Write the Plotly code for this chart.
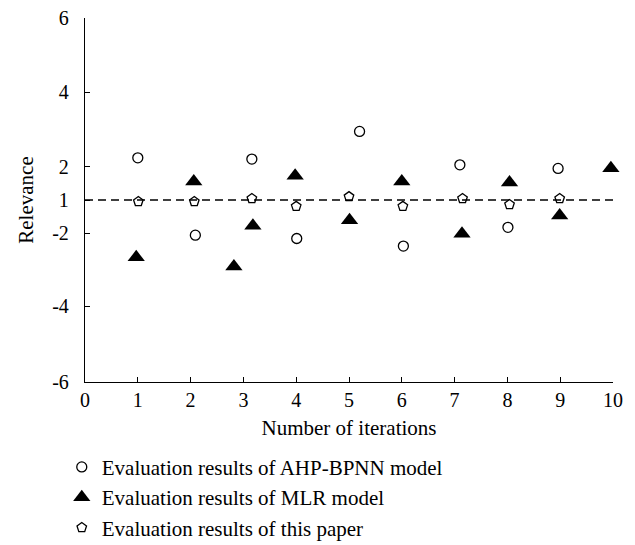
import plotly.graph_objects as go

# Positions along the plotted (linear) vertical axis; tick labels are relabelled as in the source chart
y_tick_vals = [6, 3.55, 1.1, 0, -1.1, -3.5, -6]
y_tick_text = ["6", "4", "2", "1", "-2", "-4", "-6"]
x_tick_vals = list(range(0, 11))

reference_level = 0  # dashed line (labelled "1")

ahp_x = [1.0, 2.09, 3.16, 4.01, 5.2, 6.03, 7.1, 8.01, 8.96, 10.02]
ahp_y = [1.39, -1.16, 1.35, -1.27, 2.26, -1.52, 1.16, -0.9, 1.04, -1.84]

mlr_x = [0.97, 2.06, 2.82, 3.18, 3.98, 5.01, 6.0, 7.14, 8.04, 8.99, 9.96]
mlr_y = [-1.89, 0.61, -2.19, -0.85, 0.8, -0.67, 0.61, -1.11, 0.58, -0.51, 1.05]

paper_x = [1.01, 2.07, 3.16, 4.0, 5.0, 6.02, 7.15, 8.04, 8.99, 10.02]
paper_y = [-0.05, -0.05, 0.05, -0.21, 0.11, -0.21, 0.05, -0.15, 0.05, -0.09]

FONT = "Liberation Serif"
FS = 21

fig = go.Figure()
fig.add_trace(go.Scatter(
    x=ahp_x, y=ahp_y, mode="markers", name="Evaluation results of AHP-BPNN model",
    marker=dict(symbol="circle-open", size=10, color="black", line=dict(width=1.3)),
    cliponaxis=False))
fig.add_trace(go.Scatter(
    x=mlr_x, y=mlr_y, mode="markers", name="Evaluation results of MLR model",
    marker=dict(symbol="triangle-up", size=15, color="black"),
    cliponaxis=False))
fig.add_trace(go.Scatter(
    x=paper_x, y=paper_y, mode="markers", name="Evaluation results of this paper",
    marker=dict(symbol="pentagon-open", size=10, color="black", line=dict(width=1.3)),
    cliponaxis=False))

fig.add_shape(type="line", x0=0, x1=10, y0=reference_level, y1=reference_level,
              xref="x", yref="y", line=dict(color="black", width=1.3, dash="8px,5px"),
              layer="below")

fig.update_layout(
    width=635, height=545,
    margin=dict(l=77, r=30, t=10, b=171, autoexpand=False),
    paper_bgcolor="white", plot_bgcolor="white",
    font=dict(family=FONT, size=FS, color="black"),
    showlegend=True,
    legend=dict(x=-0.044, xanchor="left", y=-0.178, yanchor="top",
                font=dict(family=FONT, size=FS, color="black"),
                bgcolor="rgba(0,0,0,0)", tracegroupgap=0),
    xaxis=dict(range=[0, 10], tickvals=x_tick_vals, ticks="inside", ticklen=5,
               tickwidth=1.2, tickcolor="black", showline=True, linecolor="black",
               linewidth=1.3, showgrid=False, zeroline=False,
               tickfont=dict(family=FONT, size=20), ticklabeloverflow="allow",
               title=dict(text="Number of iterations", standoff=10,
                          font=dict(family=FONT, size=FS))),
    yaxis=dict(range=[-6, 6], tickvals=y_tick_vals, ticktext=y_tick_text,
               ticks="inside", ticklen=5, tickwidth=1.2, tickcolor="black",
               showline=True, linecolor="black", linewidth=1.3, showgrid=False,
               zeroline=False, ticklabelstandoff=11, ticklabeloverflow="allow",
               tickfont=dict(family=FONT, size=20),
               title=dict(text="Relevance", standoff=12,
                          font=dict(family=FONT, size=FS))),
)

fig.write_html("out.html")
